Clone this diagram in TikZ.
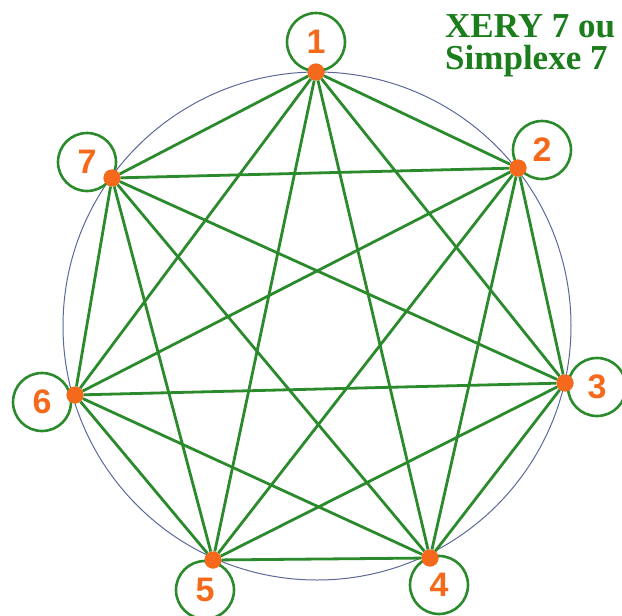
\documentclass[tikz,border=0pt]{standalone}
\usepackage{fontspec}
\setmainfont{Liberation Serif}
\newfontfamily\digitfont{Liberation Sans}
\usetikzlibrary{positioning}
\definecolor{linkgreen}{HTML}{2B8A2B}
\definecolor{titlegreen}{HTML}{1B7D1B}
\definecolor{dotorange}{HTML}{F5691C}
\definecolor{rimblue}{HTML}{5C6899}

\begin{document}
\begin{tikzpicture}[x=1pt,y=-1pt,
  vtx/.style={circle,fill=dotorange,inner sep=0pt,minimum size=17pt},
  tag/.style={circle,draw=linkgreen,line width=2.6pt,minimum size=58pt,inner sep=0pt,
              font=\digitfont\bfseries\fontsize{34}{34}\selectfont,text=dotorange},
  link/.style={draw=linkgreen,line width=2.8pt},
  rim/.style={draw=rimblue,line width=1pt},
  title/.style={font=\bfseries\fontsize{35}{32}\selectfont,text=titlegreen,align=left,
                anchor=north west,inner sep=0pt}
]
\useasboundingbox (0,0) rectangle (622,616);

% outer circle
\draw[rim] (317,326) circle[radius=254pt];

% vertices
\node[vtx] (v1) at (316,72)  {};
\node[vtx] (v2) at (518,168) {};
\node[vtx] (v3) at (565,383) {};
\node[vtx] (v4) at (430,558) {};
\node[vtx] (v5) at (213,560) {};
\node[vtx] (v6) at (75,395)  {};
\node[vtx] (v7) at (112,178) {};

% all pairs
\foreach \a in {1,...,6}{
  \pgfmathtruncatemacro\nxt{\a+1}
  \foreach \b in {\nxt,...,7}
    \draw[link] (v\a) -- (v\b);
}

% labels
\node[tag] (t1) at (316,42)  {1};
\node[tag] (t2) at (542,150) {2};
\node[tag] (t3) at (597,387) {3};
\node[tag] (t4) at (439,585) {4};
\node[tag] (t5) at (205,590) {5};
\node[tag] (t6) at (42,402)  {6};
\node[tag] (t7) at (87,162)  {7};

% redraw dots on top
\foreach \i in {1,...,7}
  \fill[dotorange] (v\i.center) circle[radius=8.5pt];

\node[title] (name) at (445,14) {XERY 7 ou\\Simplexe 7};
\end{tikzpicture}
\end{document}
